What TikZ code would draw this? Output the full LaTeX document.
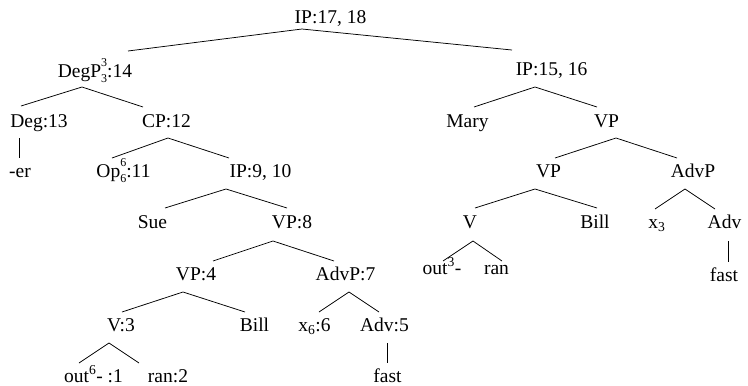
\documentclass[tikz,border=0pt]{standalone}
\usepackage{fontspec}
\setmainfont{Liberation Serif}
\newcommand{\sbsp}[2]{\makebox[0pt][l]{\raisebox{-0.3em}{\fontsize{12}{12}\selectfont #1}}\raisebox{0.52em}{\fontsize{12}{12}\selectfont #2}}
\begin{document}
\begin{tikzpicture}[x=1pt,y=-1pt,
  lbl/.style={anchor=base,inner sep=0pt,font=\fontsize{19.5}{22}\selectfont},
  edge/.style={line width=0.75pt}]
\useasboundingbox (0,0) rectangle (748,386);
% nodes
\node[lbl] (ip1718) at (330.5,23) {IP:17, 18};
\node[lbl] (degp) at (95,77) {DegP\sbsp{3}{3}:14};
\node[lbl] (ip1516) at (551.5,75) {IP:15, 16};
\node[lbl] (deg13) at (39,127) {Deg:13};
\node[lbl] (cp12) at (166.5,127) {CP:12};
\node[lbl] (mary) at (467.5,127) {Mary};
\node[lbl] (vpr) at (606.5,127) {VP};
\node[lbl] (er) at (20,177) {-er};
\node[lbl] (op) at (123.5,177) {Op\sbsp{6}{6}:11};
\node[lbl] (ip910) at (260.5,177) {IP:9, 10};
\node[lbl] (vpr2) at (548.5,177) {VP};
\node[lbl] (advpr) at (693,177) {AdvP};
\node[lbl] (sue) at (152.5,228) {Sue};
\node[lbl] (vp8) at (292,228) {VP:8};
\node[lbl] (vr) at (470,228) {V};
\node[lbl] (billr) at (595,228) {Bill};
\node[lbl] (x3) at (657,228) {x\textsubscript{3}};
\node[lbl] (advr) at (724.5,228) {Adv};
\node[lbl] (vp4) at (196,280) {VP:4};
\node[lbl] (advp7) at (345.5,280) {AdvP:7};
\node[lbl] (out3) at (442,274) {out\textsuperscript{3}-};
\node[lbl] (ranr) at (496.5,274) {ran};
\node[lbl] (fastr) at (724,281) {fast};
\node[lbl] (v3) at (121,331) {V:3};
\node[lbl] (billl) at (254.5,331) {Bill};
\node[lbl] (x6) at (314.5,331) {x\textsubscript{6}:6};
\node[lbl] (adv5) at (384.5,331) {Adv:5};
\node[lbl] (out6) at (93.5,382) {out\textsuperscript{6}- :1};
\node[lbl] (ran2) at (168,382) {ran:2};
\node[lbl] (fastl) at (387.5,382) {fast};
% connectors
\draw[edge] ([shift={(33,-26)}]degp.base) -- ([shift={(-28.5,6)}]ip1718.base) -- ([shift={(-39.5,-25)}]ip1516.base);
\draw[edge] ([shift={(-18,-21)}]deg13.base) -- ([shift={(-13,10)}]degp.base) -- ([shift={(-23.5,-20)}]cp12.base);
\draw[edge] ([shift={(6.5,-20)}]mary.base) -- ([shift={(-16.5,12)}]ip1516.base) -- ([shift={(-9.5,-20)}]vpr.base);
\draw[edge] ([shift={(-20,11)}]deg13.base) -- ([shift={(-1,-19)}]er.base);
\draw[edge] ([shift={(-11.5,-19)}]op.base) -- ([shift={(1.5,11)}]cp12.base) -- ([shift={(-31.5,-19)}]ip910.base);
\draw[edge] ([shift={(6.5,-19)}]vpr2.base) -- ([shift={(9.5,11)}]vpr.base) -- ([shift={(-16,-19)}]advpr.base);
\draw[edge] ([shift={(12.5,-20)}]sue.base) -- ([shift={(-34.5,12)}]ip910.base) -- ([shift={(-5,-20)}]vp8.base);
\draw[edge] ([shift={(5,-20)}]vr.base) -- ([shift={(-13.5,12)}]vpr2.base) -- ([shift={(2,-20)}]billr.base);
\draw[edge] ([shift={(-2,-19)}]x3.base) -- ([shift={(-8,12)}]advpr.base) -- ([shift={(-9.5,-19)}]advr.base);
\draw[edge] ([shift={(3.5,13)}]advr.base) -- ([shift={(4,-19)}]fastr.base);
\draw[edge] ([shift={(17,-19)}]vp4.base) -- ([shift={(-19,13)}]vp8.base) -- ([shift={(-11.5,-19)}]advp7.base);
\draw[edge] ([shift={(1,-13)}]out3.base) -- ([shift={(3,13)}]vr.base) -- ([shift={(5.5,-13)}]ranr.base);
\draw[edge] ([shift={(1,-19)}]v3.base) -- ([shift={(-13,12)}]vp4.base) -- ([shift={(-9.5,-19)}]billl.base);
\draw[edge] ([shift={(4.5,-19)}]x6.base) -- ([shift={(3.5,12)}]advp7.base) -- ([shift={(-5.5,-19)}]adv5.base);
\draw[edge] ([shift={(-14.5,-19)}]out6.base) -- ([shift={(-12,12)}]v3.base) -- ([shift={(-29,-19)}]ran2.base);
\draw[edge] ([shift={(2.5,12)}]adv5.base) -- ([shift={(-0.5,-19)}]fastl.base);
\end{tikzpicture}
\end{document}
